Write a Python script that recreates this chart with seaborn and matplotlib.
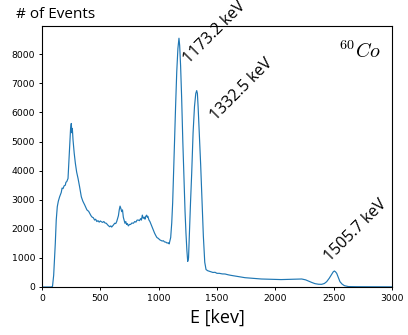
import matplotlib
matplotlib.use("Agg")
import matplotlib.pyplot as plt
import seaborn as sns
import pandas as pd

energy_kev = [0, 80, 90, 100, 114, 122, 131, 140, 151, 165, 172, 180, 190, 200, 205, 212, 223,
              230, 237, 245, 251, 256, 260, 266, 276, 286, 297, 309, 322, 337, 350, 366, 385,
              400, 409, 420, 430, 440, 451, 460, 470, 480, 490, 500, 508, 520, 530, 540, 551,
              566, 580, 590, 597, 610, 623, 632, 640, 655, 662, 669, 676, 683, 690, 697, 711,
              718, 725, 732, 740, 750, 760, 770, 783, 795, 805, 815, 826, 835, 845, 852, 860,
              868, 877, 883, 888, 897, 902, 907, 917, 925, 935, 945, 954, 965, 975, 985, 997,
              1010, 1020, 1030, 1040, 1050, 1062, 1072, 1083, 1090, 1095, 1103, 1112, 1120,
              1128, 1136, 1145, 1155, 1165, 1174, 1180, 1188, 1197, 1207, 1217, 1226, 1234,
              1242, 1249, 1256, 1263, 1273, 1283, 1295, 1307, 1318, 1326, 1332, 1338, 1348,
              1360, 1372, 1383, 1395, 1406, 1420, 1435, 1450, 1465, 1483, 1500, 1520, 1545,
              1569, 1595, 1620, 1650, 1683, 1710, 1740, 1770, 1797, 1840, 1880, 1920, 1969,
              2000, 2050, 2100, 2140, 2180, 2226, 2260, 2283, 2310, 2340, 2370, 2397, 2420,
              2440, 2462, 2483, 2496, 2506, 2516, 2526, 2540, 2554, 2572, 2592, 2626, 2700,
              2800, 2900, 3000]
counts = [0, 0, 20, 400, 1500, 2300, 2760, 2950, 3100, 3250, 3400, 3380, 3480, 3500, 3600, 3620, 3730,
          4300, 4940, 5450, 5620, 5300, 5450, 5050, 4600, 4250, 3950, 3730, 3450, 3100, 2950, 2820, 2650,
          2600, 2530, 2450, 2400, 2380, 2300, 2330, 2250, 2280, 2230, 2270, 2245, 2220, 2250, 2200, 2190,
          2120, 2070, 2100, 2060, 2120, 2190, 2180, 2245, 2450, 2650, 2780, 2700, 2590, 2650, 2400, 2190,
          2250, 2150, 2180, 2100, 2150, 2150, 2200, 2190, 2250, 2230, 2300, 2300, 2280, 2350, 2300, 2470,
          2360, 2400, 2330, 2420, 2470, 2400, 2430, 2300, 2250, 2150, 2050, 1960, 1850, 1770, 1700, 1670,
          1620, 1600, 1580, 1590, 1550, 1540, 1510, 1520, 1480, 1560, 1700, 2200, 2900,
          3900, 5000, 6200, 7400, 8200, 8550, 8300, 7600, 6500, 5000, 3700, 2600, 1850,
          1250, 880, 1000, 1800, 2900, 3900, 5300, 6200, 6650, 6750, 6650, 6200, 5300,
          4200, 2900, 1750, 850, 600, 560, 540, 520, 500, 505, 470, 470, 450,
          447, 420, 400, 380, 355, 340, 320, 310, 298, 285, 275, 270, 263,
          258, 255, 260, 263, 265, 275, 245, 206, 160, 115, 95, 92, 120,
          183, 300, 435, 520, 550, 520, 470, 330, 183, 100, 46, 15, 10,
          8, 6, 5]

peak_labels = ["1173.2 keV", "1332.5 keV", "1505.7 keV"]
label_x = [1190, 1420, 2400]
label_y = [7550, 5600, 760]

x_ticks = [0, 500, 1000, 1500, 2000, 2500, 3000]
y_ticks = [0, 1000, 2000, 3000, 4000, 5000, 6000, 7000, 8000]

df = pd.DataFrame({"E": energy_kev, "N": counts})

fig = plt.figure(figsize=(4.08, 3.35), dpi=100)
ax = fig.add_axes([42 / 408, 1 - 287 / 335, 350 / 408, 261 / 335])
sns.lineplot(data=df, x="E", y="N", ax=ax, color="#1f77b4", linewidth=0.85,
             sort=False, estimator=None)

ax.set_xlim(0, 3000)
ax.set_ylim(0, 8970)
ax.set_xticks(x_ticks)
ax.set_yticks(y_ticks)
ax.tick_params(labelsize=6.7, length=2.5, width=0.7, pad=2.5)
for s in ax.spines.values():
    s.set_linewidth(0.8)
ax.set_ylabel("")
ax.set_xlabel("E [kev]", fontsize=13, family="Open Sans", labelpad=4)

fig.text(16 / 408, 1 - 18.5 / 335, "# of Events", fontsize=11, family="Open Sans",
         va="baseline", ha="left")

for lab, xx, yy in zip(peak_labels, label_x, label_y):
    ax.text(xx, yy, lab, rotation=45, fontsize=11.5, family="Open Sans",
            ha="left", va="bottom")

ax.text(2545, 7880, r"$^{60}Co$", fontsize=14.5, math_fontfamily="cm",
        ha="left", va="baseline")

fig.savefig("out.png", dpi=100)
